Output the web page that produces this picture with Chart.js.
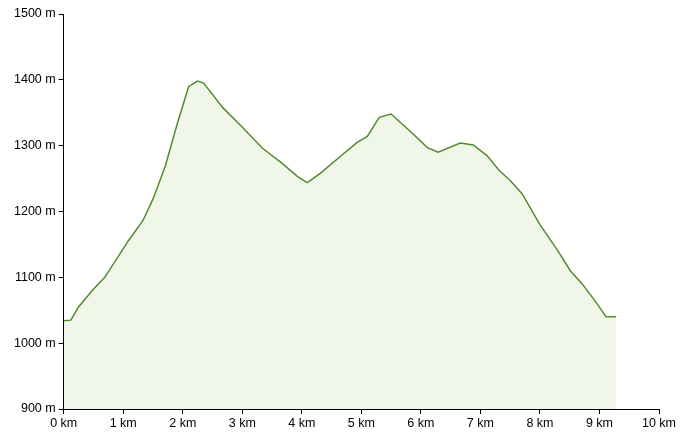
<!DOCTYPE html>
<html>
<head>
<meta charset="utf-8">
<script src="https://cdn.jsdelivr.net/npm/chart.js@4/dist/chart.umd.min.js"></script>
<style>
html,body{margin:0;padding:0;background:#fff;}
#wrap{width:686px;height:439px;position:relative;}
</style>
</head>
<body>
<div id="wrap"><canvas id="c" width="686" height="439"></canvas></div>
<script>
// distance along route (km)
const distanceKm = [0, 0.12, 0.25, 0.49, 0.69, 1.09, 1.33, 1.51, 1.71, 1.91, 2.10, 2.25, 2.35, 2.68, 2.97, 3.34, 3.67, 3.93, 4.09, 4.31, 4.65, 4.93, 5.10, 5.30, 5.50, 5.82, 6.11, 6.29, 6.66, 6.88, 7.11, 7.32, 7.50, 7.70, 8.00, 8.31, 8.51, 8.71, 8.96, 9.11, 9.28];
// elevation (m)
const elevationM = [1034, 1035, 1055, 1081, 1100, 1156, 1186, 1221, 1270, 1334, 1390, 1398, 1395, 1357, 1331, 1296, 1273, 1253, 1244, 1258, 1284, 1305, 1314, 1343, 1348, 1322, 1297, 1290, 1304, 1301, 1285, 1262, 1247, 1227, 1180, 1139, 1110, 1090, 1060, 1040, 1040];

const xMin = 0, xMax = 10, xStep = 1;
const yMin = 900, yMax = 1500, yStep = 100;

const points = distanceKm.map((d, i) => ({x: d, y: elevationM[i]}));

const tickFont = {family: "'Liberation Sans', Arial, sans-serif", size: 12.5};

new Chart(document.getElementById('c'), {
  type: 'line',
  data: {
    datasets: [{
      data: points,
      borderColor: '#548a2e',
      borderWidth: 1.5,
      backgroundColor: 'rgba(139,195,74,0.13)',
      fill: 'start',
      pointRadius: 0,
      tension: 0
    }]
  },
  options: {
    responsive: false,
    animation: false,
    layout: {padding: {left: 11, right: 27, top: 14, bottom: 6}},
    plugins: {legend: {display: false}, tooltip: {enabled: false}},
    scales: {
      x: {
        type: 'linear',
        min: xMin, max: xMax,
        ticks: {stepSize: xStep, color: '#000', font: tickFont, padding: 2,
          callback: v => v + ' km'},
        grid: {drawOnChartArea: false, drawTicks: true, tickLength: 5, color: '#000'},
        border: {color: '#000', width: 1}
      },
      y: {
        min: yMin, max: yMax,
        ticks: {stepSize: yStep, color: '#000', font: tickFont, padding: 3,
          callback: v => v + ' m'},
        grid: {drawOnChartArea: false, drawTicks: true, tickLength: 5, color: '#000'},
        border: {color: '#000', width: 1}
      }
    }
  }
});
</script>
</body>
</html>
